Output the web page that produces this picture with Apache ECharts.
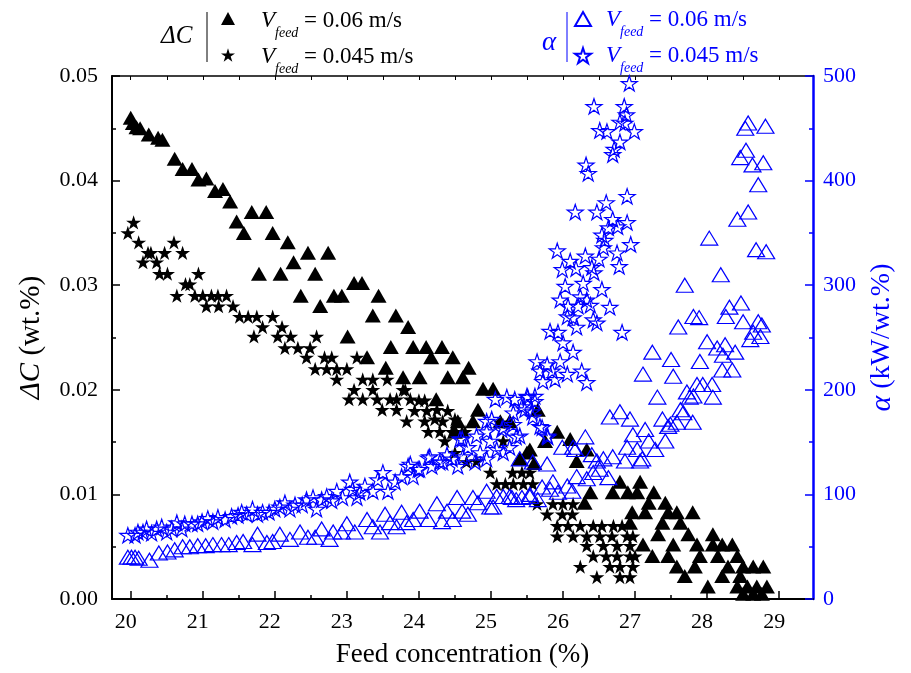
<!DOCTYPE html>
<html><head><meta charset="utf-8">
<script src="https://cdn.jsdelivr.net/npm/echarts@6/dist/echarts.min.js"></script>
<style>html,body{margin:0;padding:0;background:#fff}#c{width:911px;height:673px}</style>
</head><body><div id="c"></div>
<script>
// ΔC, V_feed = 0.06 m/s  [feed concentration %, ΔC wt.%]
const dc06 = [[20.0,0.046],[20.03,0.0455],[20.08,0.0451],[20.13,0.045],[20.25,0.0444],[20.38,0.0441],[20.44,0.0439],[20.61,0.0421],[20.72,0.0411],[20.85,0.0411],[20.94,0.0401],[21.05,0.0402],[21.17,0.039],[21.28,0.0392],[21.38,0.038],[21.47,0.0361],[21.57,0.035],[21.68,0.037],[21.78,0.0311],[21.88,0.037],[21.97,0.035],[22.08,0.0311],[22.18,0.0341],[22.26,0.0322],[22.36,0.029],[22.46,0.0331],[22.56,0.0311],[22.63,0.028],[22.74,0.0331],[22.82,0.029],[22.93,0.029],[23.01,0.0251],[23.1,0.0302],[23.21,0.0302],[23.28,0.0231],[23.36,0.0271],[23.44,0.029],[23.54,0.0221],[23.61,0.0241],[23.68,0.0271],[23.78,0.0212],[23.85,0.026],[23.92,0.0241],[24.01,0.0212],[24.1,0.0241],[24.17,0.0231],[24.24,0.0191],[24.32,0.0241],[24.4,0.0212],[24.47,0.0231],[24.5,0.016],[24.54,0.017],[24.61,0.0212],[24.69,0.0221],[24.75,0.017],[24.82,0.0181],[24.89,0.0201],[25.03,0.0201],[25.13,0.017],[25.26,0.017],[25.4,0.0134],[25.5,0.014],[25.54,0.0143],[25.6,0.013],[25.65,0.0181],[25.75,0.0151],[25.92,0.016],[26.1,0.0153],[26.19,0.0132],[26.3,0.0092],[26.33,0.0143],[26.38,0.0102],[26.69,0.0102],[26.79,0.0112],[26.9,0.0102],[26.93,0.0073],[26.96,0.0083],[27.03,0.0102],[27.07,0.0112],[27.11,0.0052],[27.14,0.0083],[27.19,0.0092],[27.24,0.0041],[27.26,0.0102],[27.32,0.0062],[27.38,0.0073],[27.42,0.0092],[27.46,0.0083],[27.46,0.0041],[27.53,0.0052],[27.58,0.0083],[27.58,0.0031],[27.63,0.0073],[27.69,0.0022],[27.74,0.0062],[27.8,0.0083],[27.83,0.0031],[27.86,0.0052],[27.9,0.0041],[28.01,0.0012],[28.08,0.0062],[28.08,0.0052],[28.15,0.0041],[28.21,0.0052],[28.21,0.0022],[28.29,0.0031],[28.35,0.0052],[28.42,0.0041],[28.42,0.0012],[28.46,0.0022],[28.5,0.0031],[28.5,0.0005],[28.56,0.0012],[28.64,0.0031],[28.64,0.0005],[28.69,0.0012],[28.76,0.0005],[28.78,0.0031],[28.83,0.0012]];
// ΔC, V_feed = 0.045 m/s
const dc045 = [[19.96,0.035],[20.04,0.036],[20.11,0.0341],[20.17,0.0322],[20.24,0.0331],[20.28,0.0331],[20.36,0.0322],[20.4,0.0311],[20.47,0.0331],[20.51,0.0311],[20.6,0.0341],[20.64,0.029],[20.72,0.0331],[20.76,0.0301],[20.82,0.0301],[20.89,0.029],[20.94,0.0311],[21.0,0.029],[21.05,0.028],[21.12,0.029],[21.21,0.029],[21.22,0.028],[21.33,0.029],[21.42,0.028],[21.51,0.027],[21.63,0.027],[21.71,0.0251],[21.75,0.027],[21.83,0.026],[21.97,0.027],[22.04,0.0251],[22.1,0.026],[22.14,0.024],[22.22,0.0251],[22.32,0.024],[22.44,0.0231],[22.49,0.024],[22.56,0.022],[22.58,0.0251],[22.69,0.0231],[22.72,0.022],[22.79,0.0231],[22.86,0.022],[22.86,0.021],[23.0,0.022],[23.03,0.0191],[23.1,0.02],[23.14,0.0231],[23.22,0.021],[23.22,0.0191],[23.36,0.021],[23.36,0.02],[23.42,0.0191],[23.49,0.0181],[23.56,0.021],[23.6,0.0191],[23.69,0.0191],[23.69,0.0181],[23.78,0.02],[23.81,0.02],[23.83,0.017],[23.88,0.0191],[23.94,0.018],[24.0,0.019],[24.08,0.019],[24.08,0.017],[24.11,0.018],[24.13,0.016],[24.22,0.0172],[24.25,0.0181],[24.29,0.016],[24.33,0.017],[24.36,0.0151],[24.4,0.018],[24.46,0.016],[24.5,0.0172],[24.5,0.014],[24.6,0.016],[24.64,0.016],[24.66,0.0131],[24.8,0.0132],[24.99,0.0121],[25.08,0.011],[25.13,0.0169],[25.17,0.0151],[25.2,0.011],[25.3,0.0121],[25.31,0.011],[25.43,0.0121],[25.45,0.011],[25.54,0.0121],[25.58,0.011],[25.64,0.0091],[25.78,0.0081],[25.86,0.0091],[25.92,0.007],[25.92,0.006],[25.99,0.0081],[26.0,0.0091],[26.07,0.007],[26.13,0.0081],[26.14,0.0091],[26.14,0.006],[26.24,0.007],[26.24,0.0031],[26.33,0.006],[26.33,0.0051],[26.42,0.007],[26.42,0.0041],[26.47,0.0021],[26.51,0.006],[26.54,0.007],[26.56,0.0051],[26.6,0.0041],[26.65,0.0031],[26.68,0.006],[26.7,0.007],[26.75,0.0051],[26.75,0.0041],[26.79,0.0031],[26.79,0.0021],[26.82,0.007],[26.89,0.006],[26.93,0.0051],[26.93,0.0041],[26.93,0.0021],[26.97,0.006],[26.97,0.0031],[27.0,0.0041]];
// α, V_feed = 0.06 m/s  [feed concentration %, α kW/wt.%]
const a06 = [[19.96,40],[20.01,40],[20.06,40],[20.11,39],[20.26,37],[20.39,44],[20.51,45],[20.61,47],[20.72,50],[20.82,50],[20.93,51],[21.04,51],[21.14,52],[21.26,52],[21.36,52],[21.47,54],[21.56,55],[21.69,52],[21.76,62],[21.89,54],[21.97,55],[22.07,62],[22.21,57],[22.35,64],[22.46,59],[22.56,59],[22.65,67],[22.76,57],[22.81,64],[22.93,64],[23.0,72],[23.11,64],[23.28,76],[23.36,69],[23.46,64],[23.53,81],[23.6,73],[23.69,69],[23.76,83],[23.83,73],[23.92,76],[24.01,84],[24.13,76],[24.25,91],[24.32,74],[24.39,84],[24.47,76],[24.53,97],[24.6,84],[24.68,81],[24.75,97],[24.82,92],[24.94,103],[24.99,88],[25.03,88],[25.08,98],[25.17,98],[25.26,98],[25.29,97],[25.35,95],[25.4,134],[25.43,97],[25.54,98],[25.54,100],[25.58,131],[25.65,95],[25.71,107],[25.78,129],[25.82,105],[25.86,112],[25.93,102],[25.99,145],[26.06,108],[26.13,103],[26.14,145],[26.17,143],[26.19,117],[26.31,155],[26.33,115],[26.4,138],[26.42,121],[26.47,132],[26.51,124],[26.56,134],[26.63,116],[26.65,174],[26.69,136],[26.79,179],[26.86,132],[26.89,145],[26.93,172],[26.97,157],[27.03,143],[27.07,132],[27.1,134],[27.11,215],[27.14,162],[27.19,151],[27.24,236],[27.28,143],[27.31,193],[27.38,172],[27.42,151],[27.46,165],[27.49,167],[27.5,229],[27.53,213],[27.58,169],[27.6,260],[27.63,181],[27.67,178],[27.69,300],[27.72,198],[27.76,193],[27.8,169],[27.81,270],[27.81,194],[27.86,205],[27.89,269],[27.9,227],[27.94,205],[28.0,246],[28.03,345],[28.07,205],[28.08,193],[28.14,240],[28.19,310],[28.21,219],[28.22,233],[28.25,243],[28.26,270],[28.31,279],[28.35,219],[28.39,236],[28.42,363],[28.46,422],[28.47,283],[28.5,265],[28.53,450],[28.54,429],[28.57,455],[28.57,370],[28.6,248],[28.63,415],[28.64,255],[28.68,334],[28.71,396],[28.71,265],[28.74,251],[28.76,262],[28.78,417],[28.81,452],[28.82,332]];
// α, V_feed = 0.045 m/s
const a045 = [[19.96,61],[20.06,61],[20.1,64],[20.17,64],[20.22,67],[20.29,63],[20.36,67],[20.43,69],[20.5,64],[20.57,67],[20.64,73],[20.71,67],[20.75,72],[20.85,72],[20.93,72],[20.99,74],[21.07,77],[21.14,74],[21.21,78],[21.31,76],[21.4,79],[21.49,80],[21.54,83],[21.61,81],[21.69,86],[21.76,81],[21.83,83],[21.92,83],[22.0,86],[22.07,88],[22.14,92],[22.21,86],[22.28,90],[22.38,90],[22.44,95],[22.53,97],[22.58,86],[22.65,95],[22.72,98],[22.79,94],[22.86,103],[22.94,97],[23.04,112],[23.08,105],[23.14,97],[23.18,102],[23.25,108],[23.36,103],[23.43,114],[23.5,121],[23.57,103],[23.67,112],[23.76,117],[23.85,127],[23.88,129],[23.92,117],[23.99,124],[24.01,124],[24.13,135],[24.15,136],[24.18,127],[24.29,131],[24.33,131],[24.39,138],[24.46,134],[24.54,127],[24.57,153],[24.6,153],[24.61,136],[24.68,145],[24.78,131],[24.8,156],[24.85,140],[24.94,134],[24.94,160],[24.94,170],[24.99,151],[25.01,172],[25.06,191],[25.08,143],[25.15,162],[25.17,140],[25.17,164],[25.22,193],[25.26,145],[25.31,167],[25.31,178],[25.33,191],[25.35,155],[25.4,156],[25.43,184],[25.47,181],[25.5,194],[25.51,193],[25.57,179],[25.58,174],[25.61,189],[25.61,194],[25.64,227],[25.68,165],[25.68,218],[25.71,164],[25.72,208],[25.78,156],[25.78,224],[25.79,155],[25.82,256],[25.85,218],[25.89,210],[25.92,333],[25.93,255],[25.96,227],[25.96,286],[25.99,315],[26.0,245],[26.03,299],[26.06,215],[26.06,270],[26.07,280],[26.1,323],[26.14,269],[26.14,236],[26.17,370],[26.18,316],[26.19,260],[26.21,280],[26.24,289],[26.26,218],[26.28,302],[26.31,328],[26.32,415],[26.33,286],[26.33,207],[26.35,407],[26.38,281],[26.4,317],[26.42,267],[26.43,312],[26.43,471],[26.47,370],[26.47,264],[26.5,325],[26.51,448],[26.54,348],[26.54,296],[26.56,336],[26.58,343],[26.6,379],[26.61,447],[26.63,355],[26.65,279],[26.69,425],[26.69,363],[26.71,430],[26.75,331],[26.76,356],[26.78,318],[26.79,456],[26.79,437],[26.82,255],[26.85,471],[26.86,455],[26.88,463],[26.89,385],[26.89,360],[26.92,493],[26.94,339],[26.99,447]];

const xMajorTicks = [20,21,22,23,24,25,26,27,28,29];
const xMinorTicks = [20.5,21.5,22.5,23.5,24.5,25.5,26.5,27.5,28.5];
const xTopTicks = [20,20.5,21,21.5,22,22.5,23,23.5,24,24.5,25,25.5,26,26.5,27,27.5,28,28.5,29];

const FONT = 'Liberation Serif';
const BLUE = '#0000ff';
const STAR = 'path://M0,-10L2.245,-3.09L9.511,-3.09L3.633,1.18L5.878,8.09L0,3.82L-5.878,8.09L-3.633,1.18L-9.511,-3.09L-2.245,-3.09Z';
const XMIN = 19.74, XMAX = 29.47;

const chart = echarts.init(document.getElementById('c'), null, {renderer: 'canvas'});
const hollow = {color: 'rgba(0,0,0,0)', borderColor: BLUE, borderWidth: 1.2, opacity: 1};
const solid = {color: '#000', opacity: 1};
const legendRich = {
  v: {fontFamily: FONT, fontStyle: 'italic', fontSize: 23, lineHeight: 39},
  s: {fontFamily: FONT, fontStyle: 'italic', fontSize: 14, verticalAlign: 'bottom', lineHeight: 16},
  t: {fontFamily: FONT, fontSize: 23}
};
function legendText(x, y, txt, color) {
  const rich = {};
  for (const k in legendRich) rich[k] = Object.assign({}, legendRich[k], {fill: color});
  return {type: 'text', x: x, y: y, style: {text: '{v|V}{s|feed}{t| = ' + txt + '}', rich: rich, verticalAlign: 'middle', fill: color}};
}
function legendIcon(name, left, top, w, h) {
  return {show: true, data: [name], left: left, top: top, padding: 0, itemWidth: w, itemHeight: h, selectedMode: false, formatter: function(){return '';}, textStyle: {fontSize: 1}};
}

chart.setOption({
  animation: false,
  backgroundColor: '#fff',
  textStyle: {fontFamily: FONT},
  grid: {left: 112, right: 98, top: 76, bottom: 73, containLabel: false},
  legend: [
    legendIcon('dc06', 221, 12, 14, 13),
    legendIcon('dc045', 221, 48, 14, 14),
    legendIcon('a06', 574, 11, 16, 14),
    legendIcon('a045', 574, 47, 16, 16)
  ],
  graphic: [
    {type: 'text', x: 161, y: 36, style: {text: 'ΔC', font: 'italic 25px "Liberation Serif"', fill: '#000', verticalAlign: 'middle'}},
    {type: 'line', shape: {x1: 207, y1: 12, x2: 207, y2: 62}, style: {stroke: '#000', lineWidth: 1}},
    legendText(261, 21, '0.06 m/s', '#000'),
    legendText(261, 57, '0.045 m/s', '#000'),
    {type: 'text', x: 542, y: 43, style: {text: 'α', font: 'italic 27px "Liberation Serif"', fill: BLUE, verticalAlign: 'middle'}},
    {type: 'line', shape: {x1: 567, y1: 12, x2: 567, y2: 62}, style: {stroke: BLUE, lineWidth: 1}},
    legendText(606, 20, '0.06 m/s', BLUE),
    legendText(606, 56, '0.045 m/s', BLUE)
  ],
  xAxis: [
    {type: 'value', position: 'bottom', min: XMIN, max: XMAX,
     name: 'Feed concentration (%)', nameLocation: 'middle', nameGap: 42,
     nameTextStyle: {fontFamily: FONT, fontSize: 27, color: '#000'},
     axisLine: {onZero: false, lineStyle: {color: '#000', width: 2}},
     axisTick: {inside: true, length: 8, customValues: xMajorTicks, lineStyle: {color: '#000', width: 1.5}},
     axisLabel: {customValues: xMajorTicks, fontFamily: FONT, fontSize: 22, color: '#000', margin: 12, padding: [0, 10, 0, 0]},
     splitLine: {show: false}},
    {type: 'value', position: 'bottom', min: XMIN, max: XMAX,
     axisLine: {show: false},
     axisTick: {inside: true, length: 4, customValues: xMinorTicks, lineStyle: {color: '#000', width: 1.5}},
     axisLabel: {show: false}, splitLine: {show: false}},
    {type: 'value', position: 'top', min: XMIN, max: XMAX,
     axisLine: {onZero: false, lineStyle: {color: '#000', width: 1.5}},
     axisTick: {inside: true, length: 4, customValues: xTopTicks, lineStyle: {color: '#000', width: 1}},
     axisLabel: {show: false}, splitLine: {show: false}}
  ],
  yAxis: [
    {type: 'value', position: 'left', min: 0, max: 0.05, interval: 0.01,
     name: '{i|ΔC} (wt.%)', nameLocation: 'middle', nameGap: 66,
     nameTextStyle: {fontFamily: FONT, fontSize: 29, color: '#000', rich: {i: {fontFamily: FONT, fontStyle: 'italic', fontSize: 29}}},
     axisLine: {onZero: false, lineStyle: {color: '#000', width: 2}},
     axisTick: {inside: true, length: 8, lineStyle: {color: '#000', width: 1.5}},
     minorTick: {show: true, splitNumber: 2, length: 4, lineStyle: {color: '#000', width: 1.5}},
     axisLabel: {fontFamily: FONT, fontSize: 22, color: '#000', margin: 14, formatter: function(v){return v.toFixed(2);}},
     splitLine: {show: false}},
    {type: 'value', position: 'right', min: 0, max: 500, interval: 100,
     name: '{i|α} (kW/wt.%)', nameLocation: 'middle', nameGap: 54,
     nameTextStyle: {fontFamily: FONT, fontSize: 28, color: BLUE, rich: {i: {fontFamily: FONT, fontStyle: 'italic', fontSize: 30, color: BLUE}}},
     axisLine: {onZero: false, lineStyle: {color: BLUE, width: 2.5}},
     axisTick: {inside: true, length: 8, lineStyle: {color: BLUE, width: 1.5}},
     minorTick: {show: true, splitNumber: 2, length: 4, lineStyle: {color: BLUE, width: 1.5}},
     axisLabel: {fontFamily: FONT, fontSize: 22, color: BLUE, margin: 10},
     splitLine: {show: false}}
  ],
  series: [
    {name: 'dc06', type: 'scatter', xAxisIndex: 0, yAxisIndex: 0, data: dc06, symbol: 'triangle', symbolSize: [16, 14], itemStyle: solid, z: 2},
    {name: 'dc045', type: 'scatter', xAxisIndex: 0, yAxisIndex: 0, data: dc045, symbol: STAR, symbolKeepAspect: true, symbolSize: 15, itemStyle: solid, z: 2},
    {name: 'a06', type: 'scatter', xAxisIndex: 0, yAxisIndex: 1, data: a06, symbol: 'triangle', symbolSize: [17, 14], itemStyle: hollow, z: 3},
    {name: 'a045', type: 'scatter', xAxisIndex: 0, yAxisIndex: 1, data: a045, symbol: STAR, symbolKeepAspect: true, symbolSize: 16, itemStyle: hollow, z: 3}
  ]
});
</script></body></html>
